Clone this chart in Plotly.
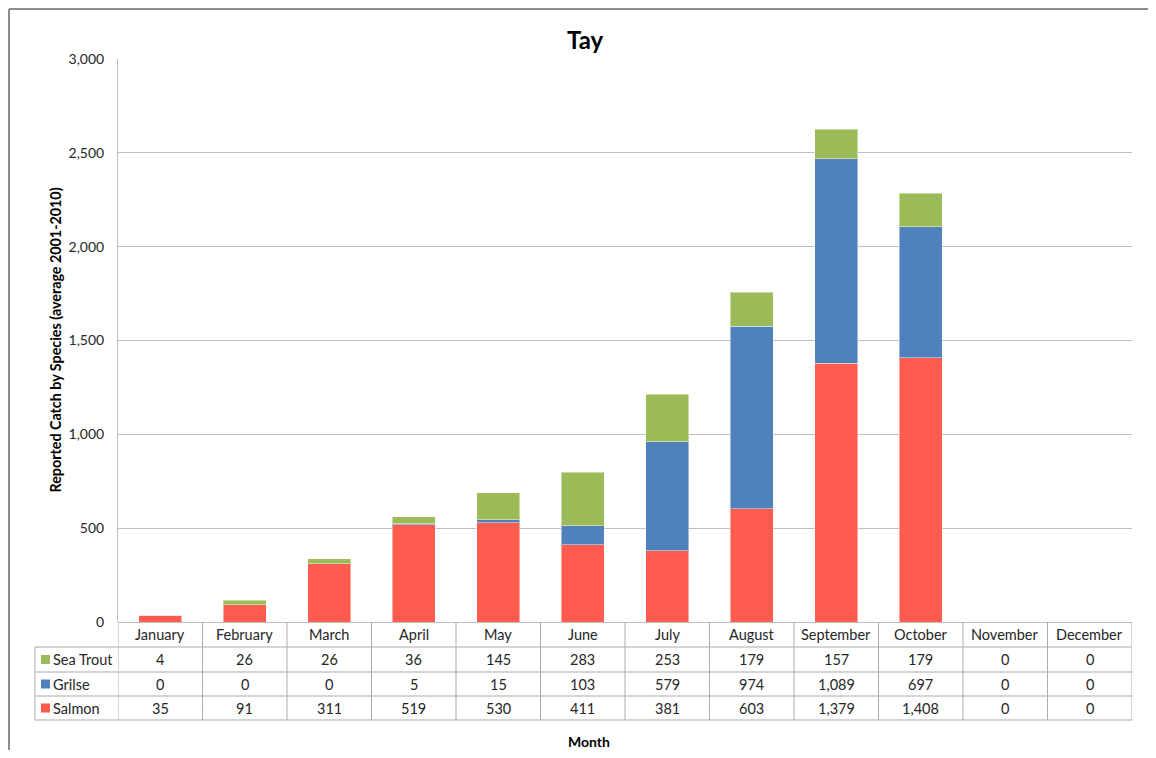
import plotly.graph_objects as go

months = ["January", "February", "March", "April", "May", "June", "July",
          "August", "September", "October", "November", "December"]
salmon = [35, 91, 311, 519, 530, 411, 381, 603, 1379, 1408, 0, 0]
grilse = [0, 0, 0, 5, 15, 103, 579, 974, 1089, 697, 0, 0]
sea_trout = [4, 26, 26, 36, 145, 283, 253, 179, 157, 179, 0, 0]

series = [("Salmon", salmon, "#FF5B4F"),
          ("Grilse", grilse, "#4F81BD"),
          ("Sea Trout", sea_trout, "#9BBB59")]
table_order = ["Sea Trout", "Grilse", "Salmon"]

# page has an 8px body margin; size the figure so the page fits the window
OFF = 8
W, H = 1156 - 2 * OFF, 758 - 2 * OFF
FONT = "Lato, Calibri, 'Liberation Sans', sans-serif"
GRID = "#BFBFBF"
LINE = "#ABABAB"
TXT = "#262626"


def px(x):
    return (x - OFF) / W


def py(y):
    return 1 - (y - OFF) / H


plot_l, plot_r, plot_t, plot_b = 118, 1132, 59, 622
row_edges = [622, 647, 672, 696, 720]
legend_l = 35

fig = go.Figure()
for name, vals, col in series:
    fig.add_trace(go.Bar(
        x=months, y=vals, name=name,
        marker=dict(color=col, line=dict(color="rgba(255,255,255,0.45)", width=1)),
        width=0.51,
    ))

shapes = []
annotations = []

# outer chart border (left and top edges visible in the frame)
shapes.append(dict(type="line", xref="paper", yref="paper",
                   x0=px(9), x1=px(9), y0=py(758), y1=py(9),
                   line=dict(color="#8C8C8C", width=2)))
shapes.append(dict(type="line", xref="paper", yref="paper",
                   x0=px(9), x1=px(1148), y0=py(9), y1=py(9),
                   line=dict(color="#8C8C8C", width=2)))

# table horizontal lines
for y in row_edges[1:]:
    shapes.append(dict(type="line", xref="paper", yref="paper",
                       x0=px(legend_l), x1=px(plot_r), y0=py(y), y1=py(y),
                       line=dict(color=LINE, width=1)))
# table vertical lines (category boundaries)
for i in range(len(months) + 1):
    shapes.append(dict(type="line", xref="x", yref="paper",
                       x0=i - 0.5, x1=i - 0.5, y0=py(row_edges[0]), y1=py(row_edges[-1]),
                       line=dict(color=LINE, width=1)))
# legend column left border
shapes.append(dict(type="line", xref="paper", yref="paper",
                   x0=px(legend_l), x1=px(legend_l), y0=py(row_edges[1]), y1=py(row_edges[-1]),
                   line=dict(color=LINE, width=1)))


def ann(x, y, text, size=14.5, color=TXT, xref="paper", xanchor="center", **kw):
    return dict(x=x, y=y, xref=xref, yref="paper", text=text, showarrow=False,
                xanchor=xanchor, yanchor="middle",
                font=dict(family=FONT, size=size, color=color), **kw)


# header month labels
hdr_y = (row_edges[0] + row_edges[1]) / 2
for i, m in enumerate(months):
    annotations.append(ann(i, py(hdr_y), m, xref="x"))

color_map = {n: c for n, _, c in series}
val_map = {n: v for n, v, _ in series}
for r, name in enumerate(table_order):
    yc = (row_edges[r + 1] + row_edges[r + 2]) / 2
    # legend key
    shapes.append(dict(type="rect", xref="paper", yref="paper",
                       x0=px(41), x1=px(50), y0=py(yc + 4.5), y1=py(yc - 4.5),
                       line=dict(width=0), fillcolor=color_map[name]))
    annotations.append(ann(px(51), py(yc), name, xanchor="left"))
    for i, v in enumerate(val_map[name]):
        annotations.append(ann(i, py(yc), f"{v:,}", xref="x"))

# title
annotations.append(ann(px(585), py(40), "<b>Tay</b>", size=24, color="#000000"))
# y axis title
annotations.append(ann(px(55), py((plot_t + plot_b) / 2),
                       "<b>Reported Catch by Species (average 2001-2010)</b>",
                       size=14.3, color="#000000", textangle=-90))
# x axis title
annotations.append(ann(px(589), py(741), "<b>Month</b>", size=14, color="#000000"))

fig.update_layout(
    width=W, height=H,
    margin=dict(l=0, r=0, t=0, b=0, pad=0, autoexpand=False),
    paper_bgcolor="white", plot_bgcolor="white",
    barmode="stack",
    showlegend=False,
    shapes=shapes,
    annotations=annotations,
    xaxis=dict(domain=[px(plot_l), px(plot_r)], type="category", range=[-0.5, 11.5],
               showticklabels=False, showgrid=False, showline=False, zeroline=False,
               automargin=False, fixedrange=True),
    yaxis=dict(domain=[py(plot_b), py(plot_t)], range=[0, 3000], dtick=500,
               tickformat=",d", showgrid=True, gridcolor=GRID, gridwidth=1,
               showline=True, linecolor=GRID, linewidth=1, zeroline=True,
               zerolinecolor=GRID, zerolinewidth=1, ticks="", ticklabelstandoff=10,
               automargin=False,
               tickfont=dict(family=FONT, size=14, color=TXT), fixedrange=True),
)

fig.write_html("out.html")
